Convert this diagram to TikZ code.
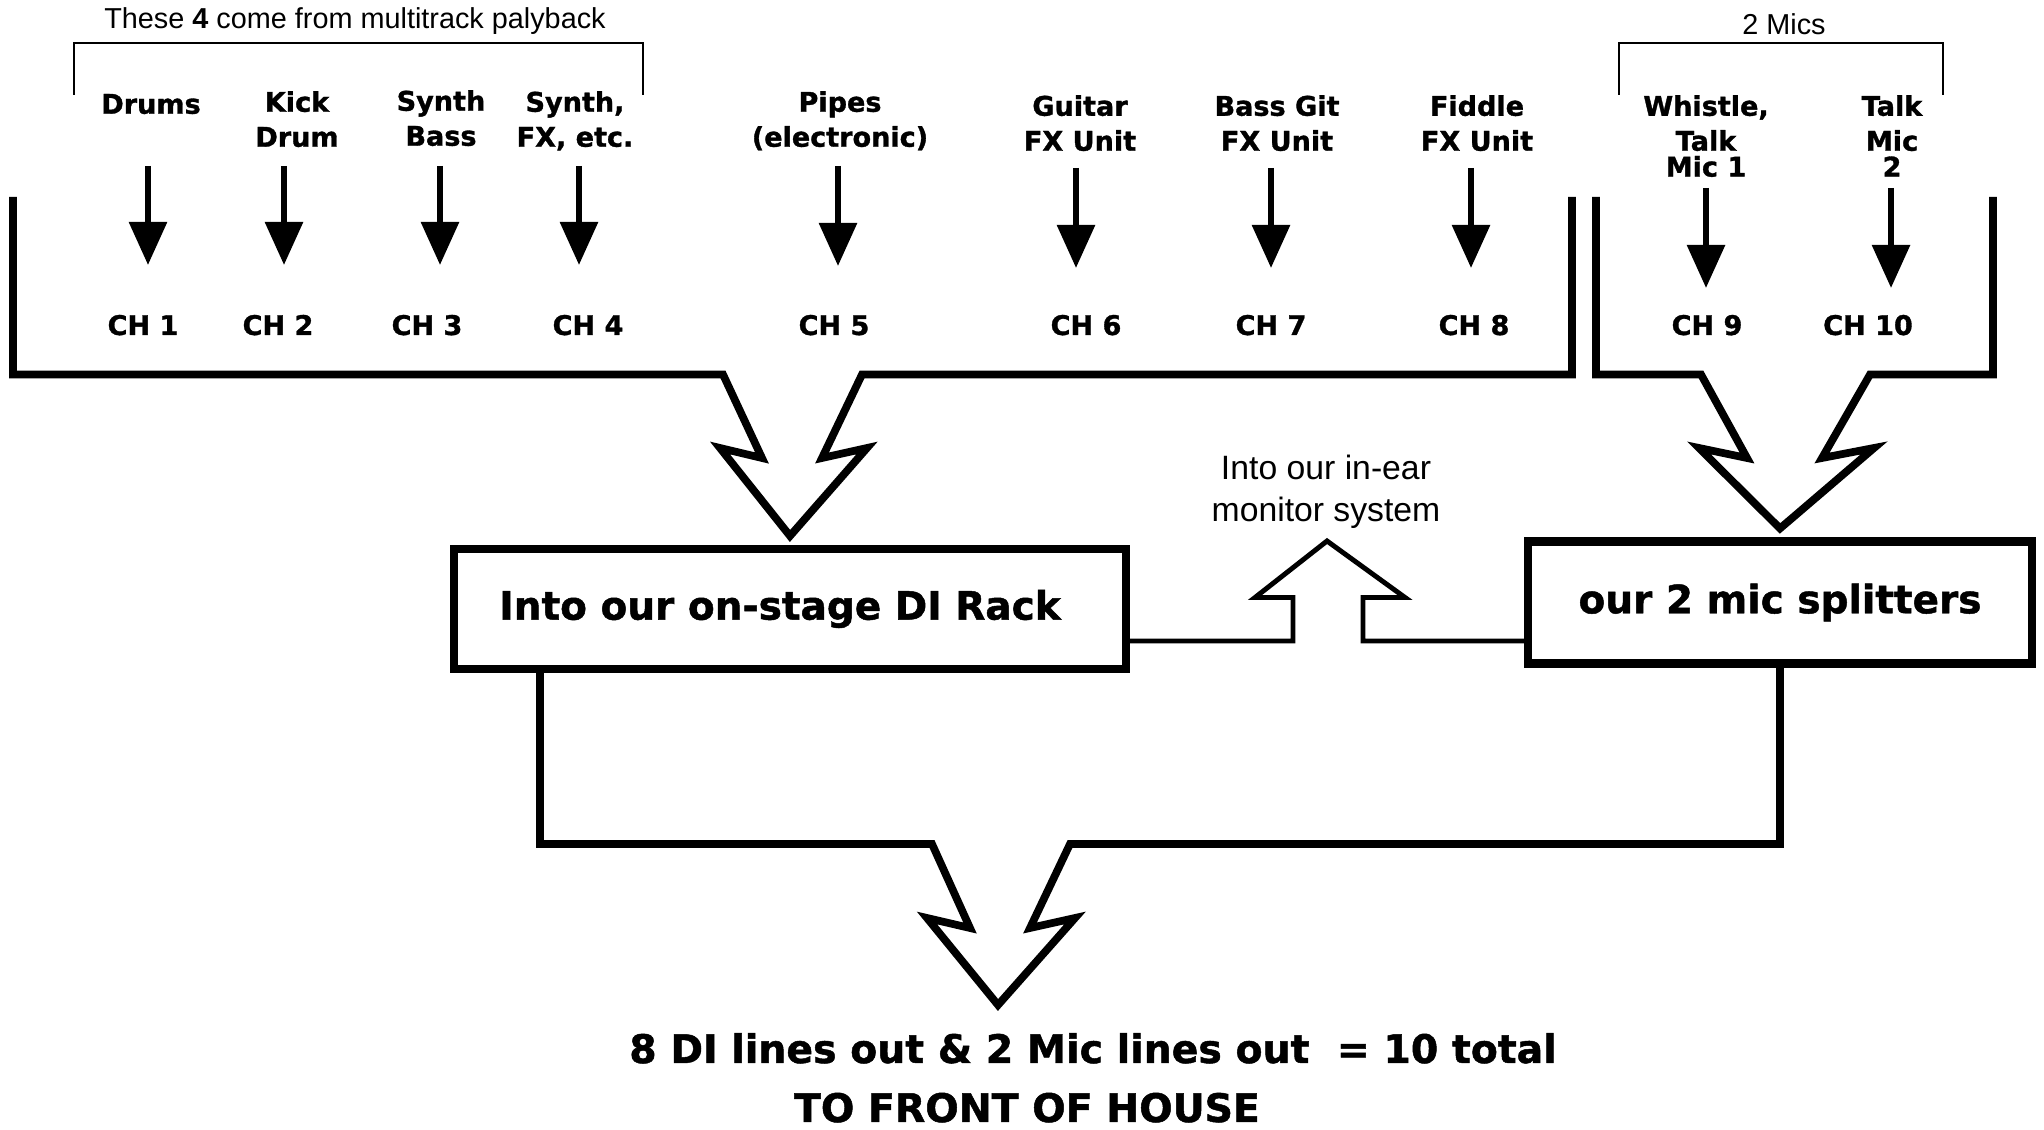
\documentclass[tikz,border=0pt]{standalone}
\usepackage{fontspec}
\setmainfont{Liberation Sans}
\newfontfamily\heavyfont{DejaVu Sans}[BoldFeatures={FakeBold=1.2}]
\usetikzlibrary{arrows.meta}

\begin{document}
\begin{tikzpicture}[
    every node/.style={inner sep=0pt},
    srclabel/.style={anchor=north, align=center, font=\heavyfont\bfseries\fontsize{7.7}{9.95}\selectfont},
    chlabel/.style={anchor=base, font=\heavyfont\bfseries\fontsize{7.7}{9.95}\selectfont},
    rackbox/.style={draw, rectangle, line width=2.3pt, align=center, font=\heavyfont\bfseries\fontsize{11.1}{13}\selectfont},
    outtext/.style={anchor=base, font=\heavyfont\bfseries\fontsize{11.2}{13}\selectfont},
    note/.style={align=center, font=\fontsize{8.2}{10}\selectfont},
    busline/.style={line width=2.2pt, line join=miter},
    feedline/.style={line width=1.4pt, line join=miter},
    bracketline/.style={line width=0.8pt},
    sig/.style={-{Triangle[length=0.43cm, width=0.37cm]}, line width=1.7pt}
]
    \useasboundingbox (0,0) rectangle (20.44,-11.30);

    % Top row: what comes in
    \node (playback) [note, anchor=base] at (3.55,-0.29) {These \textbf{4} come from multitrack palyback};
    \node (twomics) [note, anchor=base] at (17.84,-0.35) {2 Mics};
    \draw [bracketline] (0.74,-0.95) |- (6.43,-0.43) -- (6.43,-0.95);
    \draw [bracketline] (16.19,-0.95) |- (19.43,-0.43) -- (19.43,-0.95);

    \node (drums) [srclabel] at (1.51,-0.933) {Drums};
    \node (kick) [srclabel] at (2.97,-0.905) {Kick\\Drum};
    \node (synthbass) [srclabel] at (4.41,-0.895) {Synth\\Bass};
    \node (synthfx) [srclabel] at (5.75,-0.905) {Synth,\\FX, etc.};
    \node (pipes) [srclabel] at (8.40,-0.905) {Pipes\\(electronic)};
    \node (guitar) [srclabel] at (10.80,-0.945) {Guitar\\FX Unit};
    \node (bassgit) [srclabel] at (12.77,-0.945) {Bass Git\\FX Unit};
    \node (fiddle) [srclabel] at (14.77,-0.945) {Fiddle\\FX Unit};
    \node (whistle) [srclabel] at (17.06,-0.945) {Whistle,\\Talk\\[-2.6pt]Mic 1};
    \node (talk) [srclabel] at (18.92,-0.945) {Talk\\Mic\\[-2.6pt]2};

    % Channels
    \node (ch1) [chlabel] at (1.43,-3.35) {CH 1};
    \node (ch2) [chlabel] at (2.78,-3.35) {CH 2};
    \node (ch3) [chlabel] at (4.27,-3.35) {CH 3};
    \node (ch4) [chlabel] at (5.88,-3.35) {CH 4};
    \node (ch5) [chlabel] at (8.34,-3.35) {CH 5};
    \node (ch6) [chlabel] at (10.86,-3.35) {CH 6};
    \node (ch7) [chlabel] at (12.71,-3.35) {CH 7};
    \node (ch8) [chlabel] at (14.74,-3.35) {CH 8};
    \node (ch9) [chlabel] at (17.07,-3.35) {CH 9};
    \node (ch10) [chlabel] at (18.68,-3.35) {CH 10};

    % Arrow ends, source to channel
    \coordinate (ch1_from) at (1.48,-1.66);   \coordinate (ch1_to) at (1.48,-2.65);
    \coordinate (ch2_from) at (2.84,-1.66);   \coordinate (ch2_to) at (2.84,-2.65);
    \coordinate (ch3_from) at (4.40,-1.66);   \coordinate (ch3_to) at (4.40,-2.65);
    \coordinate (ch4_from) at (5.79,-1.66);   \coordinate (ch4_to) at (5.79,-2.65);
    \coordinate (ch5_from) at (8.38,-1.66);   \coordinate (ch5_to) at (8.38,-2.66);
    \coordinate (ch6_from) at (10.76,-1.68);  \coordinate (ch6_to) at (10.76,-2.68);
    \coordinate (ch7_from) at (12.71,-1.68);  \coordinate (ch7_to) at (12.71,-2.68);
    \coordinate (ch8_from) at (14.71,-1.68);  \coordinate (ch8_to) at (14.71,-2.68);
    \coordinate (ch9_from) at (17.06,-1.88);  \coordinate (ch9_to) at (17.06,-2.88);
    \coordinate (ch10_from) at (18.91,-1.88); \coordinate (ch10_to) at (18.91,-2.88);

    \draw [sig] (ch1_from) -- (ch1_to);
    \draw [sig] (ch2_from) -- (ch2_to);
    \draw [sig] (ch3_from) -- (ch3_to);
    \draw [sig] (ch4_from) -- (ch4_to);
    \draw [sig] (ch5_from) -- (ch5_to);
    \draw [sig] (ch6_from) -- (ch6_to);
    \draw [sig] (ch7_from) -- (ch7_to);
    \draw [sig] (ch8_from) -- (ch8_to);
    \draw [sig] (ch9_from) -- (ch9_to);
    \draw [sig] (ch10_from) -- (ch10_to);

    % DI rack and splitters
    \node (dirack) [rackbox, minimum width=6.72cm, minimum height=1.20cm] at (7.90,-6.09) {Into our on-stage DI Rack\hspace*{0.2cm}};
    \node (splitter) [rackbox, minimum width=5.04cm, minimum height=1.22cm] at (17.80,-6.025) {our 2 mic splitters};

    % Channels 1-8 into the DI rack
    \draw [busline] (0.13,-1.97) |- (7.23,-3.745) -- (7.62,-4.58) -- (7.20,-4.48)
        -- ([yshift=0.09cm]dirack.north) -- (8.67,-4.48) -- (8.22,-4.58) -- (8.62,-3.745) -| (15.72,-1.97);

    % Channels 9-10 into the splitters
    \draw [busline] (15.96,-1.97) |- (17.01,-3.745) -- (17.47,-4.58) -- (16.99,-4.48)
        -- ([yshift=0.09cm]splitter.north) -- (18.74,-4.48) -- (18.22,-4.58) -- (18.70,-3.745) -| (19.93,-1.97);

    % Monitor feed
    \node (inear) [note, anchor=north, font=\fontsize{9.6}{11.95}\selectfont] at (13.26,-4.54) {Into our in-ear\\monitor system};
    \draw [feedline] ([yshift=-0.32cm]dirack.east) -- (12.93,-6.41) -- (12.93,-5.975) -- (12.55,-5.975)
        -- (13.27,-5.41) -- (14.05,-5.975) -- (13.63,-5.975) -- (13.63,-6.41) -- (splitter.west |- 0,-6.41);

    % Out to front of house
    \draw [busline] ([xshift=0.90cm]dirack.south west) |- (9.32,-8.44) -- (9.70,-9.28) -- (9.27,-9.18)
        -- (9.98,-10.05) -- (10.75,-9.18) -- (10.30,-9.28) -- (10.70,-8.44) -| (splitter.south);

    \node (linesout) [outtext] at (10.93,-10.63) {8 DI lines out \& 2 Mic lines out~ = 10 total};
    \node (foh) [outtext] at (10.27,-11.22) {TO FRONT OF HOUSE};

\end{tikzpicture}
\end{document}
